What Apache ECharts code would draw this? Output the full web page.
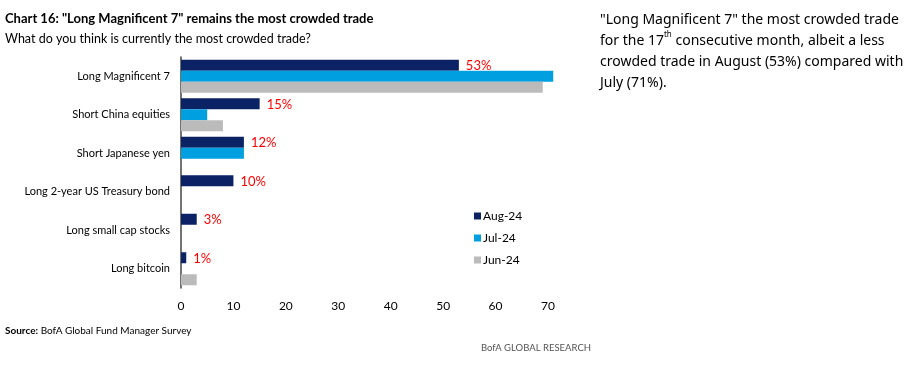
<!DOCTYPE html>
<html><head><meta charset="utf-8">
<script src="https://cdn.jsdelivr.net/npm/echarts@6/dist/echarts.min.js"></script>
<style>html,body{margin:0;padding:0;background:#fff}#c{width:923px;height:373px}</style>
</head><body><div id="c"></div>
<script>
const categories = ["Long Magnificent 7", "Short China equities", "Short Japanese yen", "Long 2-year US Treasury bond", "Long small cap stocks", "Long bitcoin"];
const aug24 = [53, 15, 12, 10, 3, 1];
const jul24 = [71, 5, 12, 0, 0, 0];
const jun24 = [69, 8, 0, 0, 0, 3];
const xTicks = [0, 10, 20, 30, 40, 50, 60, 70];

const NARROW = 'Lato, "DejaVu Sans Condensed", sans-serif';
const chart = echarts.init(document.getElementById('c'));
chart.setOption({
  animation: false,
  title: [
    {text: 'Chart 16: "Long Magnificent 7" remains the most crowded trade', left: 0, top: 7,
     textStyle: {fontFamily: NARROW, fontWeight: 'bold', fontSize: 13, color: '#000'}},
    {text: 'What do you think is currently the most crowded trade?', left: 0, top: 27,
     textStyle: {fontFamily: NARROW, fontWeight: 'normal', fontSize: 12.5, color: '#000'}},
    {text: '{b|Source:} {n|BofA Global Fund Manager Survey}', left: 0, top: 321,
     textStyle: {fontWeight: 'normal', fontFamily: NARROW, fontSize: 10,
       rich: {b: {fontFamily: NARROW, fontWeight: 'bold', fontSize: 10, color: '#000'},
              n: {fontFamily: NARROW, fontWeight: 'normal', fontSize: 10, color: '#000'}}}},
    {text: 'BofA GLOBAL RESEARCH', left: 476, top: 338,
     textStyle: {fontFamily: NARROW, fontWeight: 'normal', fontSize: 9.5, color: '#555'}},
    {text: '"Long Magnificent 7" the most crowded trade\nfor the 17{s|th} consecutive month, albeit a less\ncrowded trade in August (53%) compared with\nJuly (71%).',
     left: 595, top: 5,
     textStyle: {fontFamily: '"Noto Sans", sans-serif', fontWeight: 'normal', fontSize: 14, color: '#000', lineHeight: 21,
       rich: {s: {fontFamily: '"Noto Sans", sans-serif', fontSize: 8, verticalAlign: 'top', lineHeight: 21, padding: [0,0,8,0], color: '#000'}}}}
  ],
  legend: {
    orient: 'vertical', left: 469, top: 205, itemWidth: 7, itemHeight: 7, itemGap: 10,
    icon: 'rect',
    textStyle: {fontFamily: NARROW, fontSize: 12, color: '#000', padding: [0,0,0,-3]},
    data: ['Aug-24', 'Jul-24', 'Jun-24']
  },
  grid: {left: 181, right: 375, top: 57, height: 231, containLabel: false},
  xAxis: {
    type: 'value', min: 0, max: 70, interval: 10,
    axisLine: {show: false}, axisTick: {show: false}, splitLine: {show: false},
    axisLabel: {fontFamily: NARROW, fontSize: 12, color: '#000', margin: 12,
      formatter: v => xTicks.includes(v) ? String(v) : ''}
  },
  yAxis: {
    type: 'category', data: categories, inverse: true,
    axisLine: {show: true, lineStyle: {color: '#444', width: 1.5}}, axisTick: {show: false},
    axisLabel: {fontFamily: NARROW, fontSize: 11, color: '#000', margin: 11}
  },
  series: [
    {name: 'Aug-24', type: 'bar', data: aug24, barWidth: 11, barGap: '0%', clip: false,
     itemStyle: {color: '#0B2265'},
     label: {show: true, position: 'right', distance: 7, formatter: '{c}%', color: '#FF0000',
             fontFamily: NARROW, fontSize: 13, offset: [0, 1]}},
    {name: 'Jul-24', type: 'bar', data: jul24, barWidth: 11, barGap: '0%', clip: false,
     itemStyle: {color: '#009FDF'}},
    {name: 'Jun-24', type: 'bar', data: jun24, barWidth: 11, barGap: '0%', clip: false,
     itemStyle: {color: '#BBBBBB'}}
  ]
});
</script></body></html>
